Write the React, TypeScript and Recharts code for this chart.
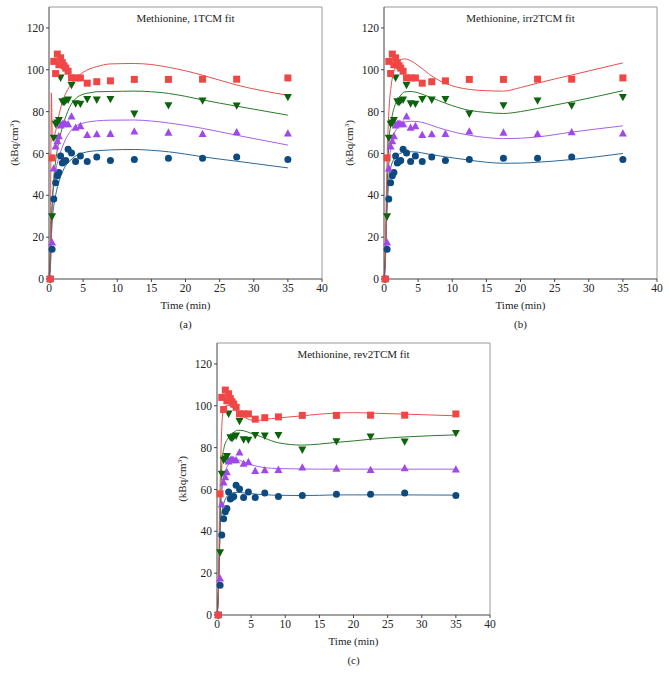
import React from "react";
import {
  ComposedChart,
  Line,
  Scatter,
  XAxis,
  YAxis,
  ReferenceLine,
} from "recharts";

// measured frame times (min) and tissue activity (kBq/cm3)
const PT = [0.17, 0.45, 0.7, 0.97, 1.22, 1.45, 1.7, 1.95, 2.2, 2.45, 2.8, 3.3, 3.9, 4.6, 5.6, 7, 9, 12.5, 17.5, 22.5, 27.5, 35];
const RED = [0, 57.9, 104, 98.2, 107.5, 102.4, 105.7, 103.4, 101.9, 100.8, 99.3, 96.1, 96.1, 96.1, 93.6, 94.3, 94.7, 95.4, 95.4, 95.5, 95.5, 96.1];
const GREEN = [0, 30, 67.6, 74.2, 74.8, 76, 96.3, 85, 84.6, 85.4, 85.8, 92.8, 84, 83.8, 86.1, 85.8, 86.1, 79.1, 83.1, 85.4, 83, 87];
const PURPLE = [0, 17.4, 52.8, 63.3, 65.8, 68.2, 73.3, 74, 74.2, 73.9, 73.9, 77.6, 72.2, 73, 68.8, 69.1, 69.3, 70.4, 69.9, 69.2, 70.1, 69.5];
const BLUE = [0, 14.2, 38.2, 46, 49.3, 50.9, 58.8, 55.4, 56.2, 56.6, 62, 60.2, 56.1, 58.8, 56.1, 58.3, 56.6, 57.1, 57.7, 57.7, 58.3, 57.1];

// model curves, sampled at CT
const CT = [0, 0.2, 0.35, 0.5, 0.75, 1, 1.5, 2, 2.5, 3, 4, 5, 6, 7, 9, 12.5, 15, 17.5, 20, 22.5, 27.5, 35];

// 1TCM
const A_RED = [0, 20, 89, 66, 68, 71, 79, 85, 89, 92, 96.2, 98.8, 100.5, 101.5, 102.8, 103, 102.5, 101.2, 99.5, 97.4, 92.7, 87.8];
const A_GREEN = [0, 10, 28, 38, 50, 57, 66.5, 73, 78, 82, 86.5, 88.3, 89, 89.5, 89.6, 89.8, 89.5, 88.7, 87.3, 85.6, 82.6, 78.3];
const A_PURPLE = [0, 6, 22, 37, 46, 52, 58.7, 63.5, 67.2, 70, 73.2, 74.5, 75.2, 75.6, 75.9, 76, 75.5, 74.6, 73.4, 72, 68.7, 64];
const A_BLUE = [0, 5, 20, 29, 36, 40.5, 47, 51.4, 54.5, 56.3, 59, 60.3, 61, 61.3, 61.7, 61.9, 61.5, 60.8, 59.7, 58.4, 56.3, 53.1];

// irr2TCM
const B_RED = [0, 15, 42, 62, 82, 91, 100, 103.2, 104.8, 105.2, 104.2, 102, 99.5, 97, 93.5, 90.6, 90, 89.8, 91.5, 93.6, 97.5, 103.3];
const B_GREEN = [0, 12, 32, 48, 67, 74, 82, 85.6, 88, 89.4, 89.6, 89, 87.8, 86.6, 84, 80.6, 79.6, 79.1, 80, 81.5, 84.7, 90];
const B_PURPLE = [0, 8, 26, 45, 56, 63, 69.5, 72.3, 74.2, 75, 75.4, 75.2, 74.5, 73.4, 71.3, 68.7, 67.6, 67.1, 67.3, 67.9, 70.2, 73.2];
const B_BLUE = [0, 8, 25, 36, 49.5, 53.5, 57.5, 59.3, 60.2, 60.6, 60.8, 60.6, 60, 59.4, 58.4, 56.8, 55.8, 55.3, 55.4, 55.8, 57.1, 60];

// rev2TCM
const C_RED = [0, 12, 45, 68, 93, 99, 100.2, 99.8, 98.5, 97, 94.5, 93.2, 93, 93.5, 94.2, 95.2, 96, 96.5, 96.7, 96.5, 96, 95.2];
const C_GREEN = [0, 10, 30, 50, 74, 79.5, 83.8, 86, 87.4, 88.3, 88, 86.8, 85.8, 84.5, 82.3, 81.2, 81.7, 82.5, 83.2, 84, 85.1, 86.1];
const C_PURPLE = [0, 10, 30, 50, 60, 66, 71, 73.3, 74.3, 74.2, 73, 71.8, 71, 70.4, 70, 69.8, 69.7, 69.7, 69.7, 69.7, 69.7, 69.7];
const C_BLUE = [0, 10, 28, 44, 50, 53.5, 56.8, 58.1, 58.5, 58.6, 58.3, 58, 57.7, 57.5, 57.2, 57.1, 57.2, 57.4, 57.4, 57.4, 57.4, 57.3];

const X_TICKS = [0, 5, 10, 15, 20, 25, 30, 35, 40];
const Y_TICKS = [0, 20, 40, 60, 80, 100, 120];

const FONT = "'Liberation Serif', 'DejaVu Serif', serif";
const COL = {
  red: "#F04646",
  redLine: "#E8504C",
  green: "#0C630C",
  greenLine: "#2A7A2A",
  purple: "#A048EA",
  purpleLine: "#A860E6",
  blue: "#0D4A80",
  blueLine: "#2A6898",
};

const zip = (ts: number[], vs: number[]) => ts.map((t, i) => ({ t, v: vs[i] }));

const Square = (p: any) => (
  <rect x={p.cx - 3.5} y={p.cy - 3.5} width={7} height={7} fill={COL.red} />
);
const Dot = (p: any) => <circle cx={p.cx} cy={p.cy} r={3.5} fill={COL.blue} />;
const TriUp = (p: any) => (
  <polygon
    points={`${p.cx},${p.cy - 4.4} ${p.cx - 4},${p.cy + 2.9} ${p.cx + 4},${p.cy + 2.9}`}
    fill={COL.purple}
  />
);
const TriDown = (p: any) => (
  <polygon
    points={`${p.cx - 4},${p.cy - 2.9} ${p.cx + 4},${p.cy - 2.9} ${p.cx},${p.cy + 4.4}`}
    fill={COL.green}
  />
);

const txt: React.CSSProperties = {
  position: "absolute",
  fontFamily: FONT,
  fontSize: 11,
  color: "#222",
  whiteSpace: "nowrap",
  transform: "translate(-50%, -50%)",
};

function Panel({
  left,
  top,
  title,
  tag,
  fits,
}: {
  left: number;
  top: number;
  title: string;
  tag: string;
  fits: number[][];
}) {
  const cx = 49 + 273 / 2;
  return (
    <div style={{ position: "absolute", left, top, width: 330, height: 340 }}>
      <ComposedChart
        width={330}
        height={300}
        margin={{ top: 7, right: 8, bottom: 1, left: 9 }}
      >
        <XAxis
          type="number"
          dataKey="t"
          domain={[0, 40]}
          ticks={X_TICKS}
          height={20}
          tickSize={3}
          stroke="#444"
          tick={{ fontSize: 11.5, fill: "#222", fontFamily: FONT }}
        />
        <YAxis
          type="number"
          domain={[0, 130]}
          ticks={Y_TICKS}
          width={40}
          tickSize={3}
          stroke="#444"
          tick={{ fontSize: 11.5, fill: "#222", fontFamily: FONT }}
        />
        <ReferenceLine y={130} stroke="#9a9a9a" />
        <ReferenceLine x={40} stroke="#9a9a9a" />
        <Scatter data={zip(PT, BLUE)} dataKey="v" shape={Dot} isAnimationActive={false} />
        <Scatter data={zip(PT, PURPLE)} dataKey="v" shape={TriUp} isAnimationActive={false} />
        <Scatter data={zip(PT, GREEN)} dataKey="v" shape={TriDown} isAnimationActive={false} />
        <Scatter data={zip(PT, RED)} dataKey="v" shape={Square} isAnimationActive={false} />
        <Line data={zip(CT, fits[3])} dataKey="v" type="monotone" stroke={COL.blueLine} strokeWidth={1} dot={false} isAnimationActive={false} />
        <Line data={zip(CT, fits[2])} dataKey="v" type="monotone" stroke={COL.purpleLine} strokeWidth={1} dot={false} isAnimationActive={false} />
        <Line data={zip(CT, fits[1])} dataKey="v" type="monotone" stroke={COL.greenLine} strokeWidth={1} dot={false} isAnimationActive={false} />
        <Line data={zip(CT, fits[0])} dataKey="v" type="monotone" stroke={COL.redLine} strokeWidth={1} dot={false} isAnimationActive={false} />
      </ComposedChart>
      <div style={{ ...txt, left: cx, top: 18 }}>{title}</div>
      <div style={{ ...txt, left: cx, top: 305 }}>Time (min)</div>
      <div style={{ ...txt, left: cx, top: 324 }}>{tag}</div>
      <div style={{ ...txt, left: 14, top: 143, transform: "translate(-50%, -50%) rotate(-90deg)" }}>
        (kBq/cm<sup style={{ fontSize: 7 }}>3</sup>)
      </div>
    </div>
  );
}

export default function App() {
  return (
    <div style={{ position: "absolute", left: 0, top: 0, width: 669, height: 685, background: "#fff" }}>
      <Panel left={0} top={0} title="Methionine, 1TCM fit" tag="(a)" fits={[A_RED, A_GREEN, A_PURPLE, A_BLUE]} />
      <Panel left={335} top={0} title="Methionine, irr2TCM fit" tag="(b)" fits={[B_RED, B_GREEN, B_PURPLE, B_BLUE]} />
      <Panel left={168} top={336} title="Methionine, rev2TCM fit" tag="(c)" fits={[C_RED, C_GREEN, C_PURPLE, C_BLUE]} />
    </div>
  );
}
